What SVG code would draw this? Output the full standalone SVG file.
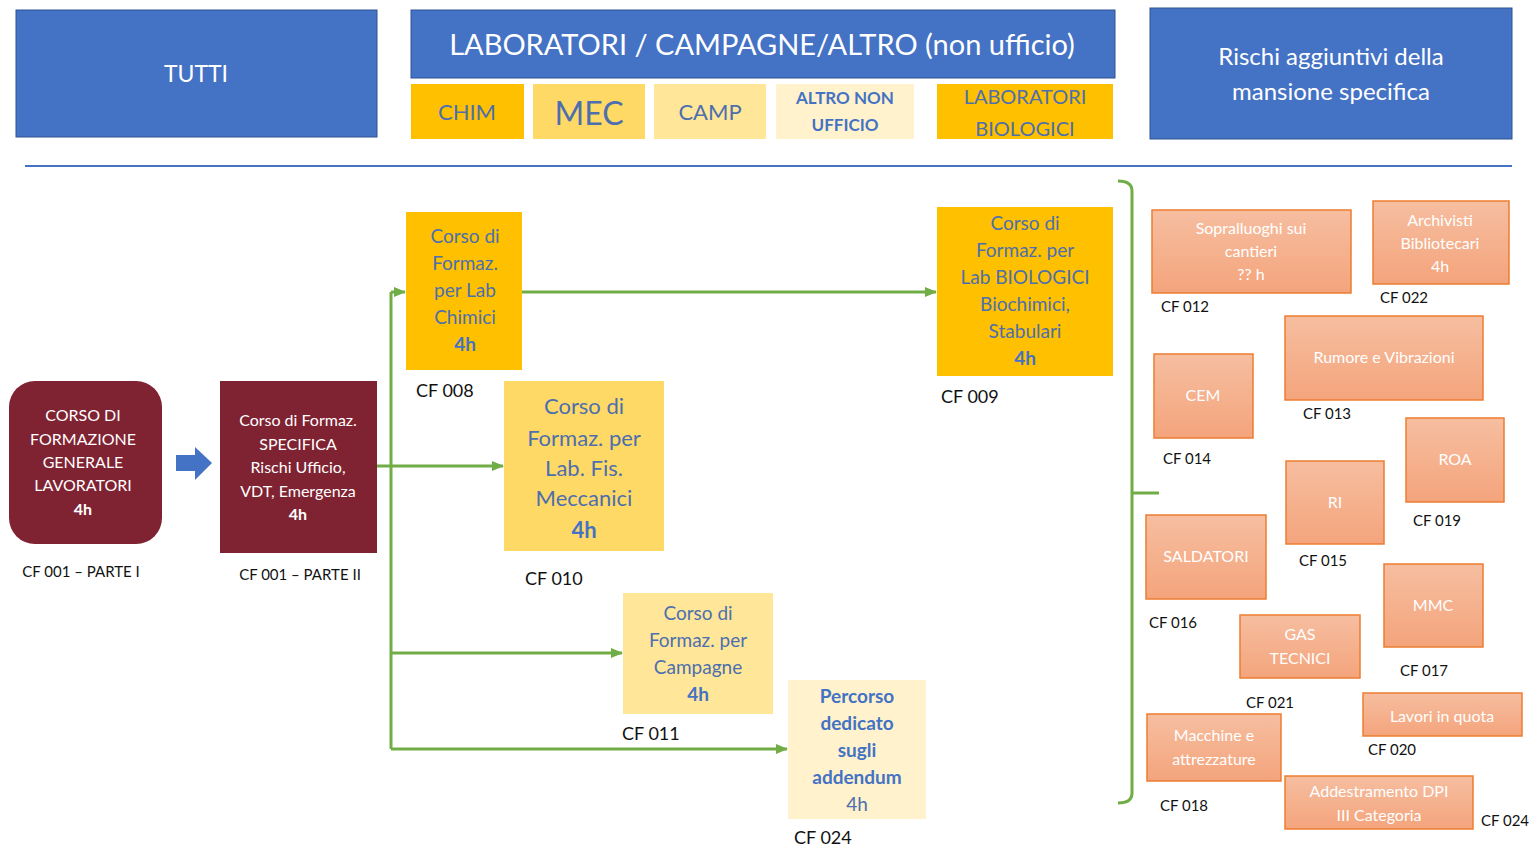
<svg xmlns="http://www.w3.org/2000/svg" width="1535" height="848" viewBox="0 0 1535 848">
<defs>
<linearGradient id="og" x1="0" y1="0" x2="0" y2="1">
<stop offset="0" stop-color="#F6BEA0"/>
<stop offset="1" stop-color="#F4A47C"/>
</linearGradient>
<marker id="ah" markerWidth="12" markerHeight="12" refX="11" refY="6" orient="auto" markerUnits="userSpaceOnUse">
<path d="M0,1 L12,6 L0,11 Z" fill="#70AD47"/>
</marker>
<style>
text{font-family:Lato,"Open Sans","Liberation Sans",sans-serif;text-anchor:middle}
.hdr{fill:#4472C4;stroke:#2F528F;stroke-width:1}
.hw{fill:#fff}
.yt{fill:#4D6FAE}
.yb{fill:#4472C4;font-weight:bold}
.mr{fill:#7F2232}
.mt{fill:#fff;font-size:16px}
.or{fill:url(#og);stroke:#ED7D31;stroke-width:1.5}
.ot{fill:#fff;font-size:16px}
.cf{fill:#111;font-size:18px;text-anchor:start}
.cfs{fill:#111;font-size:15px}
.con{fill:none;stroke:#70AD47;stroke-width:3}
</style>
</defs>
<rect width="1535" height="848" fill="#fff"/>

<g id="hdr-tutti"><rect class="hdr" x="16" y="10" width="361" height="127"/><text class="hw" x="196" y="82" font-size="23">TUTTI</text></g>
<g id="hdr-lab"><rect class="hdr" x="411" y="10" width="704" height="68"/><text class="hw" x="762" y="55" font-size="29">LABORATORI / CAMPAGNE/ALTRO (non ufficio)</text></g>
<g id="hdr-rischi"><rect class="hdr" x="1150" y="8" width="362" height="131"/><text class="hw" x="1331" y="65" font-size="24">Rischi aggiuntivi della</text><text class="hw" x="1331" y="100" font-size="24">mansione specifica</text></g>
<g id="tag-chim"><rect x="411" y="84" width="113" height="55" fill="#FFC000"/><text class="yt" x="467" y="120" font-size="22">CHIM</text></g>
<g id="tag-mec"><rect x="533" y="84" width="112" height="55" fill="#FFD966"/><text class="yt" x="589" y="125" font-size="32">MEC</text></g>
<g id="tag-camp"><rect x="654" y="84" width="112" height="55" fill="#FFE699"/><text class="yt" x="710" y="120" font-size="22">CAMP</text></g>
<g id="tag-altro"><rect x="776" y="84" width="138" height="55" fill="#FFF2CC"/><text class="yb" x="845" y="104" font-size="17">ALTRO NON</text><text class="yb" x="845" y="131" font-size="17">UFFICIO</text></g>
<g id="tag-bio"><rect x="937" y="84" width="176" height="55" fill="#FFC000"/><text class="yt" x="1025" y="104" font-size="20">LABORATORI</text><text class="yt" x="1025" y="136" font-size="20">BIOLOGICI</text></g>
<g id="divider"><line x1="25" y1="166" x2="1512" y2="166" stroke="#4472C4" stroke-width="2"/></g>

<g id="connectors">
<path class="con" d="M391,292 V749"/>
<path class="con" d="M391,292 H405" marker-end="url(#ah)"/>
<path class="con" d="M377,466 H503" marker-end="url(#ah)"/>
<path class="con" d="M391,653 H622" marker-end="url(#ah)"/>
<path class="con" d="M391,749 H787" marker-end="url(#ah)"/>
<path class="con" d="M522,292 H936" marker-end="url(#ah)"/>
<path class="con" d="M1118,181 Q1132,181 1132,191 V793 Q1132,803 1118,803 M1132,493 H1159"/>
<path d="M176,455 H195 V447 L212,463 L195,480 V471 H176 Z" fill="#4472C4"/>
</g>

<g id="cf001a"><rect class="mr" x="9" y="381" width="153" height="163" rx="26"/>
<text class="mt" x="83" y="421">CORSO DI</text><text class="mt" x="83" y="445">FORMAZIONE</text><text class="mt" x="83" y="468">GENERALE</text><text class="mt" x="83" y="491">LAVORATORI</text><text class="mt" x="83" y="515" font-weight="bold">4h</text>
<text class="cfs" x="81" y="577">CF 001 – PARTE I</text></g>
<g id="cf001b"><rect class="mr" x="220" y="381" width="157" height="172"/>
<text class="mt" x="298" y="426">Corso di Formaz.</text><text class="mt" x="298" y="450">SPECIFICA</text><text class="mt" x="298" y="473">Rischi Ufficio,</text><text class="mt" x="298" y="497">VDT, Emergenza</text><text class="mt" x="298" y="520" font-weight="bold">4h</text>
<text class="cfs" x="300" y="580">CF 001 – PARTE II</text></g>

<g id="cf008"><rect x="406" y="212" width="116" height="158" fill="#FFC000"/>
<g font-size="19"><text class="yt" x="465" y="243">Corso di</text><text class="yt" x="465" y="270">Formaz.</text><text class="yt" x="465" y="297">per Lab</text><text class="yt" x="465" y="324">Chimici</text><text class="yb" x="465" y="351">4h</text></g>
<text class="cf" x="416" y="397">CF 008</text></g>
<g id="cf010"><rect x="504" y="381" width="160" height="170" fill="#FFD966"/>
<g font-size="22"><text class="yt" x="584" y="414">Corso di</text><text class="yt" x="584" y="446">Formaz. per</text><text class="yt" x="584" y="476">Lab. Fis.</text><text class="yt" x="584" y="506">Meccanici</text><text class="yb" x="584" y="538">4h</text></g>
<text class="cf" x="525" y="585">CF 010</text></g>
<g id="cf011"><rect x="623" y="593" width="150" height="121" fill="#FFE699"/>
<g font-size="19"><text class="yt" x="698" y="620">Corso di</text><text class="yt" x="698" y="647">Formaz. per</text><text class="yt" x="698" y="674">Campagne</text><text class="yb" x="698" y="701">4h</text></g>
<text class="cf" x="622" y="740">CF 011</text></g>
<g id="cf024a"><rect x="788" y="680" width="138" height="139" fill="#FFF2CC"/>
<g font-size="19"><text class="yb" x="857" y="703">Percorso</text><text class="yb" x="857" y="730">dedicato</text><text class="yb" x="857" y="757">sugli</text><text class="yb" x="857" y="784">addendum</text><text class="yt" x="857" y="811" fill="#4472C4">4h</text></g>
<text class="cf" x="794" y="844">CF 024</text></g>
<g id="cf009"><rect x="937" y="207" width="176" height="169" fill="#FFC000"/>
<g font-size="19"><text class="yt" x="1025" y="230">Corso di</text><text class="yt" x="1025" y="257">Formaz. per</text><text class="yt" x="1025" y="284">Lab BIOLOGICI</text><text class="yt" x="1025" y="311">Biochimici,</text><text class="yt" x="1025" y="338">Stabulari</text><text class="yb" x="1025" y="365">4h</text></g>
<text class="cf" x="941" y="403">CF 009</text></g>

<g id="cf012"><rect class="or" x="1152" y="210" width="199" height="83"/><text class="ot" x="1251" y="234">Sopralluoghi sui</text><text class="ot" x="1251" y="257">cantieri</text><text class="ot" x="1251" y="280">?? h</text><text class="cfs" x="1185" y="312">CF 012</text></g>
<g id="cf022"><rect class="or" x="1373" y="201" width="136" height="83"/><text class="ot" x="1440" y="226">Archivisti</text><text class="ot" x="1440" y="249">Bibliotecari</text><text class="ot" x="1440" y="272" font-size="14">4h</text><text class="cfs" x="1404" y="303">CF 022</text></g>
<g id="cf013"><rect class="or" x="1285" y="316" width="198" height="84"/><text class="ot" x="1384" y="363">Rumore e Vibrazioni</text><text class="cfs" x="1327" y="419">CF 013</text></g>
<g id="cf014"><rect class="or" x="1154" y="354" width="99" height="84"/><text class="ot" x="1203" y="401">CEM</text><text class="cfs" x="1187" y="464">CF 014</text></g>
<g id="cf019"><rect class="or" x="1406" y="418" width="98" height="84"/><text class="ot" x="1455" y="465">ROA</text><text class="cfs" x="1437" y="526">CF 019</text></g>
<g id="cf015"><rect class="or" x="1286" y="461" width="98" height="83"/><text class="ot" x="1335" y="508">RI</text><text class="cfs" x="1323" y="566">CF 015</text></g>
<g id="cf016"><rect class="or" x="1146" y="515" width="120" height="84"/><text class="ot" x="1206" y="562">SALDATORI</text><text class="cfs" x="1173" y="628">CF 016</text></g>
<g id="cf017"><rect class="or" x="1384" y="564" width="99" height="83"/><text class="ot" x="1433" y="611">MMC</text><text class="cfs" x="1424" y="676">CF 017</text></g>
<g id="cf021"><rect class="or" x="1240" y="615" width="120" height="63"/><text class="ot" x="1300" y="640">GAS</text><text class="ot" x="1300" y="664">TECNICI</text><text class="cfs" x="1270" y="708">CF 021</text></g>
<g id="cf020"><rect class="or" x="1363" y="693" width="159" height="43"/><text class="ot" x="1442" y="722">Lavori in quota</text><text class="cfs" x="1392" y="755">CF 020</text></g>
<g id="cf018"><rect class="or" x="1147" y="714" width="134" height="67"/><text class="ot" x="1214" y="741">Macchine e</text><text class="ot" x="1214" y="765">attrezzature</text><text class="cfs" x="1184" y="811">CF 018</text></g>
<g id="cf024b"><rect class="or" x="1285" y="776" width="188" height="53"/><text class="ot" x="1379" y="797">Addestramento DPI</text><text class="ot" x="1379" y="821">III Categoria</text><text class="cfs" x="1505" y="826">CF 024</text></g>
</svg>
